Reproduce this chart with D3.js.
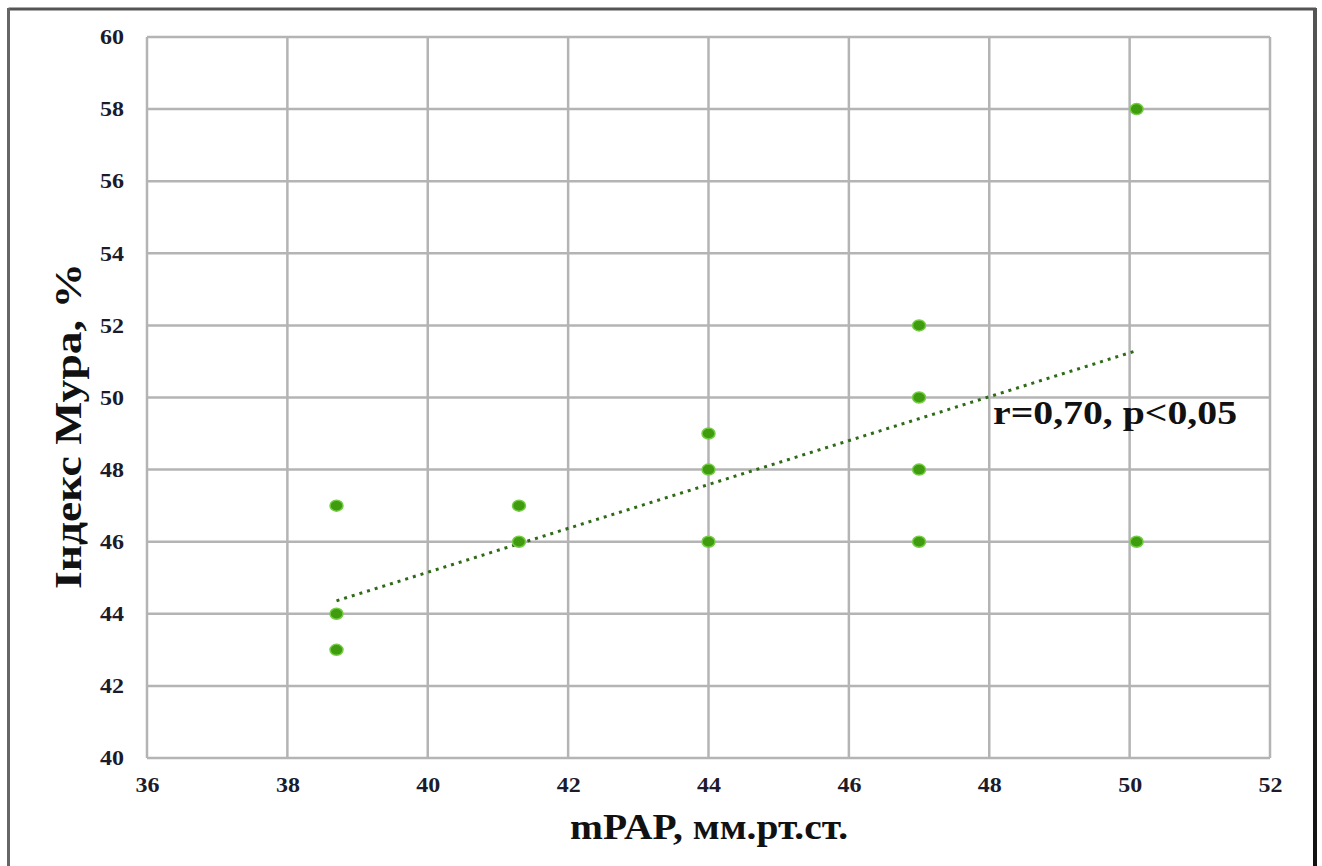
<!DOCTYPE html>
<html>
<head>
<meta charset="utf-8">
<script src="https://cdn.jsdelivr.net/npm/d3@7/dist/d3.min.js"></script>
<style>
  html, body { margin: 0; padding: 0; background: #fff; }
  svg { display: block; }
  text { font-family: "Liberation Serif", "DejaVu Serif", serif; font-weight: bold; }
</style>
</head>
<body>
<svg id="chart" width="1322" height="866"></svg>
<script>
// mPAP (mm Hg) for each patient
const mpap = [38.7, 38.7, 38.7, 41.3, 41.3, 44, 44, 44, 47, 47, 47, 47, 50.1, 50.1];
// Moore index (%) for each patient
const mooreIndex = [47, 44, 43, 47, 46, 49, 48, 46, 52, 50, 48, 46, 58, 46];
// Linear trend line end points
const trendX = [38.7, 50.1];
const trendY = [44.36, 51.3];
// Axis ticks
const xTicks = [36, 38, 40, 42, 44, 46, 48, 50, 52];
const yTicks = [40, 42, 44, 46, 48, 50, 52, 54, 56, 58, 60];
const xTitle = "mPAP, мм.рт.ст.";
const yTitle = "Індекс Мура, %";
const statLabel = "r=0,70, p<0,05";

const svg = d3.select("#chart");
const plot = { left: 147, right: 1270, top: 37, bottom: 758 };

const x = d3.scaleLinear().domain([36, 52]).range([plot.left, plot.right]);
const y = d3.scaleLinear().domain([40, 60]).range([plot.bottom, plot.top]);

// outer frame
svg.append("line").attr("x1", 8.5).attr("x2", 1316).attr("y1", 9).attr("y2", 9)
  .attr("stroke", "#555").attr("stroke-width", 3);
svg.append("line").attr("x1", 8.5).attr("x2", 8.5).attr("y1", 8).attr("y2", 866)
  .attr("stroke", "#666").attr("stroke-width", 3);
const grad = svg.append("defs").append("linearGradient").attr("id", "rb")
  .attr("x1", 0).attr("y1", 0).attr("x2", 0).attr("y2", 1);
grad.append("stop").attr("offset", "0%").attr("stop-color", "#555");
grad.append("stop").attr("offset", "100%").attr("stop-color", "#111");
svg.append("rect").attr("x", 1313).attr("y", 8).attr("width", 4).attr("height", 858)
  .attr("fill", "url(#rb)");

// gridlines
const grid = svg.append("g").attr("stroke", "#b4b4b4").attr("stroke-width", 2.5);
grid.selectAll(".vx").data(xTicks).join("line")
  .attr("x1", d => x(d)).attr("x2", d => x(d))
  .attr("y1", plot.top).attr("y2", plot.bottom);
grid.selectAll(".hy").data(yTicks).join("line")
  .attr("x1", plot.left).attr("x2", plot.right)
  .attr("y1", d => y(d)).attr("y2", d => y(d));

// axes (labels only, the frame is drawn by the grid)
const xAxis = d3.axisBottom(x).tickValues(xTicks).tickSize(0).tickPadding(19);
const yAxis = d3.axisLeft(y).tickValues(yTicks).tickSize(0).tickPadding(23);
const gx = svg.append("g").attr("transform", `translate(0,${plot.bottom})`).call(xAxis);
const gy = svg.append("g").attr("transform", `translate(${plot.left},0)`).call(yAxis);
[gx, gy].forEach(g => {
  g.select(".domain").remove();
  g.selectAll("text").attr("fill", "#1b1b2c").attr("font-size", 21)
    .attr("font-family", "'Liberation Serif', serif").attr("font-weight", "bold")
    .attr("textLength", 24).attr("lengthAdjust", "spacingAndGlyphs");
});

// trend line
svg.append("line")
  .attr("x1", x(trendX[0])).attr("y1", y(trendY[0]))
  .attr("x2", x(trendX[1])).attr("y2", y(trendY[1]))
  .attr("stroke", "#2f6a17").attr("stroke-width", 3)
  .attr("stroke-dasharray", "3,5");

// data points
svg.append("g").selectAll("ellipse").data(mpap.map((v, i) => [v, mooreIndex[i]])).join("ellipse")
  .attr("cx", d => x(d[0])).attr("cy", d => y(d[1]))
  .attr("rx", 6.5).attr("ry", 5.5)
  .attr("fill", "#3f9c0f").attr("stroke", "#74cc44").attr("stroke-width", 1.5);

// correlation label
svg.append("text").attr("x", 993).attr("y", 424)
  .attr("font-size", 33).attr("fill", "#111")
  .attr("textLength", 244).attr("lengthAdjust", "spacingAndGlyphs")
  .text(statLabel);

// axis titles
svg.append("text").attr("x", 709).attr("y", 839)
  .attr("text-anchor", "middle").attr("font-size", 36).attr("fill", "#111")
  .attr("textLength", 278).attr("lengthAdjust", "spacingAndGlyphs").text(xTitle);
svg.append("text")
  .attr("transform", `translate(81,426) rotate(-90)`)
  .attr("text-anchor", "middle").attr("font-size", 38).attr("fill", "#111")
  .attr("textLength", 326).attr("lengthAdjust", "spacingAndGlyphs").text(yTitle);
</script>
</body>
</html>
